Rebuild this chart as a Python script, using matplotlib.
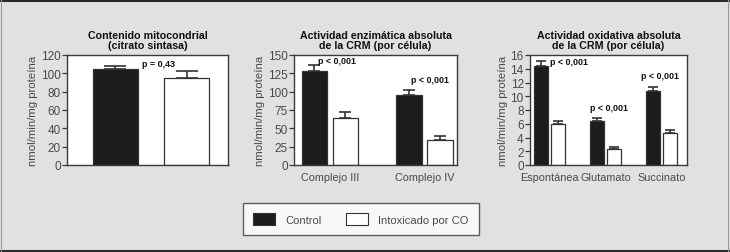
"""Three-panel bar figure: mitochondrial content and CRM activities,
control vs CO-poisoned, with upper error bars and p-values."""

import matplotlib
matplotlib.use("Agg")
import matplotlib.pyplot as plt
from matplotlib import font_manager
from matplotlib.patches import Patch
from matplotlib.lines import Line2D

# panel 1: citrate synthase
p1_ctrl = [105]
p1_ctrl_err = [3]
p1_intox = [95]
p1_intox_err = [8]

# panel 2: enzymatic activity
p2_cats = ["Complejo III", "Complejo IV"]
p2_ctrl = [128.5, 96]
p2_ctrl_err = [7.5, 6]
p2_intox = [64, 34]
p2_intox_err = [8.5, 6]

# panel 3: oxidative activity
p3_cats = ["Espontánea", "Glutamato", "Succinato"]
p3_ctrl = [14.35, 6.35, 10.8]
p3_ctrl_err = [0.75, 0.55, 0.55]
p3_intox = [5.95, 2.33, 4.65]
p3_intox_err = [0.45, 0.25, 0.45]

titles = ["Contenido mitocondrial\n(citrato sintasa)",
          "Actividad enzimática absoluta\nde la CRM (por célula)",
          "Actividad oxidativa absoluta\nde la CRM (por célula)"]
ylabel = "nmol/min/mg proteína"
legend_labels = ["Control", "Intoxicado por CO"]

BG = "#e1e1e1"
DARK = "#1c1c1c"
EDGE = "#333333"
GREY_TXT = "#4a4a4a"

installed = {f.name for f in font_manager.fontManager.ttflist}
narrow = [n for n in ("DejaVu Sans Condensed", "Liberation Sans Narrow")
          if n in installed]
TITLE_FONT = narrow[:1] + ["Liberation Sans", "DejaVu Sans"]
TITLE_SIZE = 8.5 if narrow else 7.7
TXT_FONT = ["Liberation Sans", "DejaVu Sans"]

W, H = 730, 253
fig = plt.figure(figsize=(W / 100, H / 100), dpi=100, facecolor=BG)


def px_axes(left, right, top=56, bottom=166):
    return fig.add_axes([left / W, 1 - bottom / H, (right - left) / W,
                         (bottom - top) / H])


def style(ax, title, ymax, step):
    ax.set_facecolor("white")
    for s in ax.spines.values():
        s.set_color("#3a3a3a")
        s.set_linewidth(1.0)
    ax.set_ylim(0, ymax)
    ax.set_yticks(range(0, ymax + 1, step))
    ax.tick_params(axis="y", length=3.5, width=0.9, color="#3a3a3a",
                   pad=1, labelsize=8.5, labelcolor=GREY_TXT)
    ax.tick_params(axis="x", length=0, pad=5, labelsize=7.8,
                   labelcolor=GREY_TXT)
    for lab in ax.get_yticklabels() + ax.get_xticklabels():
        lab.set_family(TXT_FONT)
    ax.set_ylabel(ylabel, fontsize=8.2, color=GREY_TXT, family=TXT_FONT,
                  labelpad=2)
    ax.set_title(title, fontsize=TITLE_SIZE, fontweight="bold",
                 family=TITLE_FONT, color="#111111", pad=5, linespacing=1.05)


def bars(ax, x, vals, errs, color, width, capsize):
    ax.bar(x, vals, width=width, color=color, edgecolor=EDGE, linewidth=0.9,
           zorder=2)
    ax.errorbar(x, vals, yerr=[[0] * len(vals), errs], fmt="none",
                ecolor=EDGE, elinewidth=1.2, capsize=capsize, capthick=1.2,
                zorder=3)


def ptext(ax, x, y, s):
    ax.text(x, y, s, ha="center", va="center", fontsize=TITLE_SIZE - 1.3,
            fontweight="bold", family=TITLE_FONT, color="#111111", zorder=4)


# panel 1
ax1 = px_axes(67, 228)
bars(ax1, [0], p1_ctrl, p1_ctrl_err, DARK, 0.63, 8)
bars(ax1, [1], p1_intox, p1_intox_err, "white", 0.63, 8)
ax1.set_xlim(-0.68, 1.58)
ax1.set_xticks([])
style(ax1, titles[0], 120, 20)
ptext(ax1, 0.6, 111, "p = 0,43")

# panel 2
ax2 = px_axes(294, 457)
x2 = list(range(len(p2_cats)))
off2 = 0.165
bars(ax2, [i - off2 for i in x2], p2_ctrl, p2_ctrl_err, DARK, 0.27, 4)
bars(ax2, [i + off2 for i in x2], p2_intox, p2_intox_err, "white", 0.27, 4)
ax2.set_xlim(-0.38, 1.345)
ax2.set_xticks(x2)
ax2.set_xticklabels(p2_cats)
style(ax2, titles[1], 150, 25)
ptext(ax2, 0.07, 143, "p < 0,001")
ptext(ax2, 1.06, 116, "p < 0,001")

# panel 3
ax3 = px_axes(530, 687)
x3 = list(range(len(p3_cats)))
off3 = 0.15
bars(ax3, [i - off3 for i in x3], p3_ctrl, p3_ctrl_err, DARK, 0.26, 3.3)
bars(ax3, [i + off3 for i in x3], p3_intox, p3_intox_err, "white", 0.26, 3.3)
ax3.set_xlim(-0.35, 2.455)
ax3.set_xticks(x3)
ax3.set_xticklabels(p3_cats)
style(ax3, titles[2], 16, 2)
ptext(ax3, 0.35, 15.0, "p < 0,001")
ptext(ax3, 1.06, 8.3, "p < 0,001")
ptext(ax3, 1.97, 12.95, "p < 0,001")

# legend
handles = [Patch(facecolor=DARK, edgecolor=EDGE, linewidth=0.8),
           Patch(facecolor="white", edgecolor=EDGE, linewidth=0.8)]
leg = fig.legend(handles, legend_labels, loc="center",
                 bbox_to_anchor=(361 / W, 1 - 220 / H), ncol=2,
                 frameon=True, fancybox=False,
                 handlelength=2.0, handleheight=1.2, handletextpad=0.9,
                 columnspacing=2.2, borderpad=0.9, borderaxespad=0,
                 prop={"family": TXT_FONT, "size": 8})
leg.get_frame().set_edgecolor("#3a3a3a")
leg.get_frame().set_linewidth(1.0)
for t in leg.get_texts():
    t.set_color(GREY_TXT)

# outer frame: heavy top/bottom rules, thin grey sides
fig.add_artist(Line2D([0, 1], [1 - 1 / H, 1 - 1 / H], color="#2a2a2a",
                      lw=2.2, transform=fig.transFigure))
fig.add_artist(Line2D([0, 1], [1 / H, 1 / H], color="#2a2a2a",
                      lw=2.2, transform=fig.transFigure))
fig.add_artist(Line2D([1.5 / W, 1.5 / W], [0, 1], color="#9a9a9a",
                      lw=0.8, transform=fig.transFigure))
fig.add_artist(Line2D([1 - 2.5 / W, 1 - 2.5 / W], [0, 1], color="#9a9a9a",
                      lw=0.8, transform=fig.transFigure))

fig.savefig("out.png", dpi=100, facecolor=BG)
